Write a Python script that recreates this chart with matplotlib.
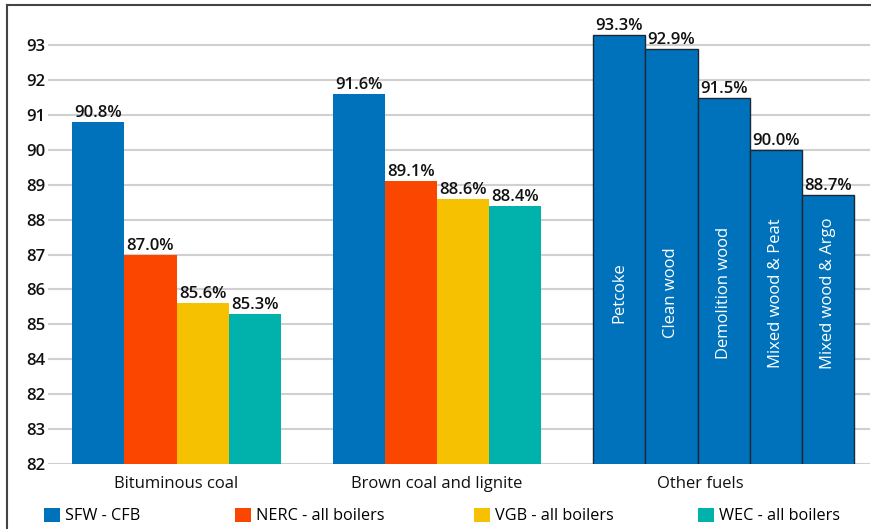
import matplotlib.pyplot as plt
from matplotlib.lines import Line2D
from matplotlib.patches import Patch

plt.rcParams['font.family'] = ['Open Sans', 'DejaVu Sans']

# boiler efficiency by fuel, %
groups = ['Bituminous coal', 'Brown coal and lignite']
series = ['SFW - CFB', 'NERC - all boilers', 'VGB - all boilers', 'WEC - all boilers']
sfw = [90.8, 91.6]
nerc = [87.0, 89.1]
vgb = [85.6, 88.6]
wec = [85.3, 88.4]

other_fuels = ['Petcoke', 'Clean wood', 'Demolition wood', 'Mixed wood & Peat', 'Mixed wood & Argo']
other_vals = [93.3, 92.9, 91.5, 90.0, 88.7]

ytick_vals = list(range(81, 94))
ytick_text = ['82', '83', '82', '84', '85', '86', '87', '88', '89', '90', '91', '92', '93']

colors = ['#0072bc', '#fb4600', '#f6c100', '#00b2ab']
legend_x = [44, 235, 474, 698]  # px from the left edge

fig = plt.figure(figsize=(8.71, 5.29), dpi=100)
ax = fig.add_axes([48 / 871, 65 / 529, 822 / 871, 453.7 / 529])

def label(x, v):
    ax.text(x, v + 0.03, '%.1f%%' % v, ha='center', va='bottom',
            fontsize=12, fontweight='semibold', color='#111111')

all_series = [sfw, nerc, vgb, wec]
for g in range(len(groups)):
    for s, vals in enumerate(all_series):
        x = g * 5 + s
        ax.bar(x, vals[g], width=1.0, color=colors[s], zorder=2)
        label(x, vals[g])

for i, (name, v) in enumerate(zip(other_fuels, other_vals)):
    x = 10 + i
    ax.bar(x, v, width=1.0, color=colors[0], edgecolor='#1b2835',
           linewidth=1.0, zorder=2)
    label(x, v)
    ax.text(x, 85.9, name, rotation=90, ha='center', va='center',
            color='white', fontsize=12, zorder=3)

ax.set_ylim(81, 94)
ax.set_xlim(-0.967, 14.81)
ax.set_yticks(ytick_vals)
ax.set_yticklabels(ytick_text, fontsize=12, fontweight='semibold', color='#111111')
ax.tick_params(axis='y', length=0, pad=2)
ax.set_xticks([])
ax.yaxis.grid(True, color='#d0d0d0', linewidth=1.5, zorder=0)
ax.set_axisbelow(True)
for sp in ax.spines.values():
    sp.set_visible(False)

# group names under the bars
for x, name in [(1.5, groups[0]), (6.5, groups[1]), (11.55, 'Other fuels')]:
    ax.text(x, -0.045, name, transform=ax.get_xaxis_transform(),
            ha='center', va='center', fontsize=12, color='#111111')

# one legend per entry so each can sit at its own spot
for c, name, lx in zip(colors, series, legend_x):
    leg = fig.legend([Patch(facecolor=c)], [name], loc='center left',
                     bbox_to_anchor=(lx / 871, 13 / 529), frameon=False,
                     fontsize=11.7, handlelength=1.0, handleheight=1.0,
                     handletextpad=0.3, borderpad=0, borderaxespad=0)

# outer frame: left and top edges
fig.add_artist(Line2D([7 / 871, 7 / 871], [0, 1 - 5 / 529], color='#444444', lw=1.5))
fig.add_artist(Line2D([7 / 871, 870 / 871], [1 - 5 / 529, 1 - 5 / 529], color='#444444', lw=1.5))

fig.savefig('out.png', dpi=100)
